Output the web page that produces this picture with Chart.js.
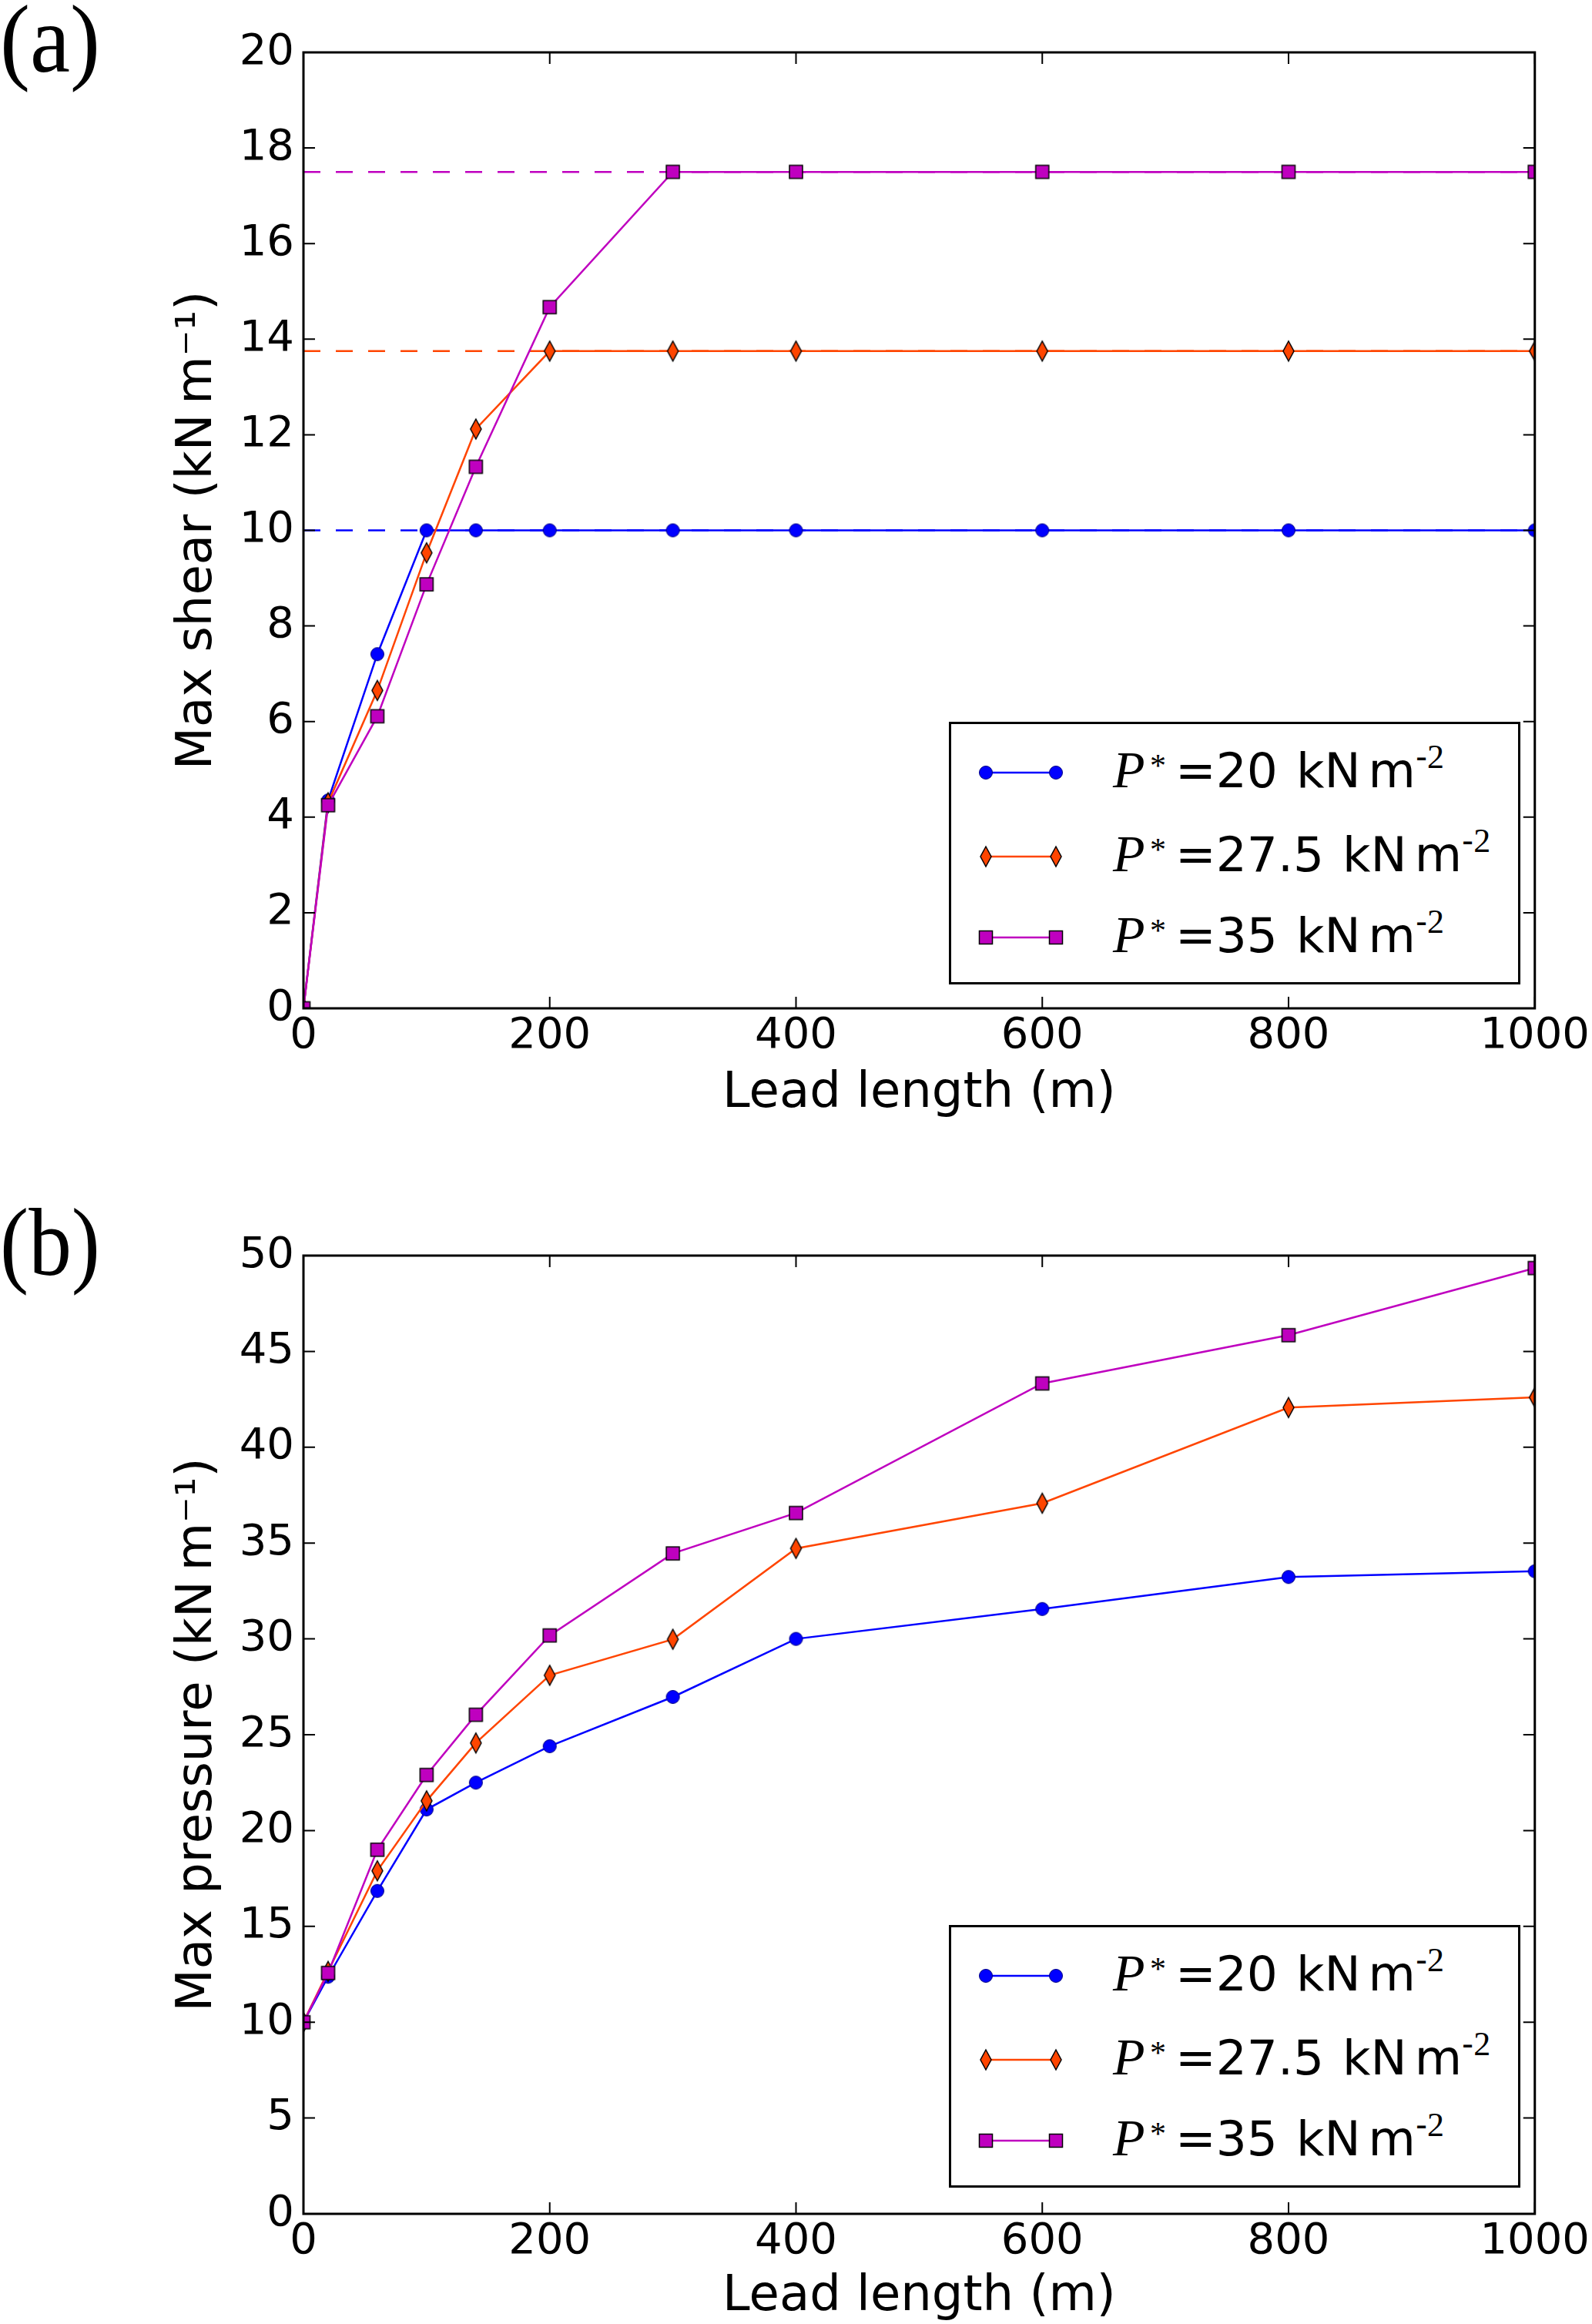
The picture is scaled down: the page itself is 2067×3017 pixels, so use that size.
<!DOCTYPE html>
<html><head><meta charset="utf-8">
<script src="https://cdn.jsdelivr.net/npm/chart.js@4.4.1/dist/chart.umd.min.js"></script>
<style>
html,body{margin:0;padding:0;background:#fff;}
#page{position:relative;width:2067px;height:3017px;overflow:hidden;background:#fff;}
canvas{position:absolute;left:0;}
#cA{top:0px;} #cB{top:1562px;}
#ov{position:absolute;left:0;top:0;pointer-events:none;}
</style></head><body>
<div id="page">
<canvas id="cA" width="2067" height="1562"></canvas>
<canvas id="cB" width="2067" height="1562"></canvas>
<svg id="ov" width="2067" height="3017" xmlns="http://www.w3.org/2000/svg"></svg>
</div>
<script>
// ---- data ----
const leadLength = [0, 20, 60, 100, 140, 200, 300, 400, 600, 800, 1000];
const pressureLabels = ['20', '27.5', '35'];
const shearP20   = [0, 4.35, 7.41, 10.0, 10.0, 10.0, 10.0, 10.0, 10.0, 10.0, 10.0];
const shearP275  = [0, 4.30, 6.65, 9.53, 12.12, 13.75, 13.75, 13.75, 13.75, 13.75, 13.75];
const shearP35   = [0, 4.25, 6.11, 8.87, 11.33, 14.67, 17.5, 17.5, 17.5, 17.5, 17.5];
const shearLimits = [10, 13.75, 17.5];
const pressP20   = [10, 12.37, 16.85, 21.1, 22.5, 24.4, 26.97, 30.0, 31.56, 33.23, 33.53];
const pressP275  = [10, 12.65, 17.9, 21.55, 24.57, 28.1, 29.98, 34.72, 37.08, 42.07, 42.6];
const pressP35   = [10, 12.57, 19.0, 22.9, 26.04, 30.18, 34.46, 36.57, 43.33, 45.85, 49.35];
const xTickValues = [0, 200, 400, 600, 800, 1000];
const shearTickValues = [0, 2, 4, 6, 8, 10, 12, 14, 16, 18, 20];
const pressTickValues = [0, 5, 10, 15, 20, 25, 30, 35, 40, 45, 50];
const xTitle = 'Lead length (m)';
const shearTitle = 'Max shear (kN\u2009m\u207B\u00B9)';
const pressTitle = 'Max pressure (kN\u2009m\u207B\u00B9)';

// ---- styles ----
const colors = ['#0000ff', '#ff4500', '#bf00bf'];
const edgeColors = ['#000080', '#000000', '#000000'];

function makeMarker(kind, fill, edge) {
  const c = document.createElement('canvas');
  let ctx;
  if (kind === 'circle') {
    c.width = 20; c.height = 20; ctx = c.getContext('2d');
    ctx.beginPath(); ctx.arc(10, 10, 8.5, 0, Math.PI * 2);
    ctx.fillStyle = fill; ctx.fill(); ctx.lineWidth = 1; ctx.strokeStyle = edge; ctx.stroke();
  } else if (kind === 'diamond') {
    c.width = 18; c.height = 30; ctx = c.getContext('2d');
    ctx.beginPath(); ctx.moveTo(9, 2); ctx.lineTo(16, 15); ctx.lineTo(9, 28); ctx.lineTo(2, 15); ctx.closePath();
    ctx.fillStyle = fill; ctx.fill(); ctx.lineWidth = 1.5; ctx.strokeStyle = edge; ctx.stroke();
  } else {
    c.width = 21; c.height = 21; ctx = c.getContext('2d');
    ctx.fillStyle = fill; ctx.fillRect(2, 2, 17, 17);
    ctx.lineWidth = 1.5; ctx.strokeStyle = edge; ctx.strokeRect(2, 2, 17, 17);
  }
  return c;
}
const markerKinds = ['circle', 'diamond', 'square'];
const markers = markerKinds.map((k, i) => makeMarker(k, colors[i], edgeColors[i]));

const framePlugin = {
  id: 'frame',
  afterDatasetsDraw(chart) {
    const { ctx, chartArea: { left, right, top, bottom }, scales: { x, y } } = chart;
    ctx.save();
    ctx.strokeStyle = '#000'; ctx.lineWidth = 2;
    const L = 15;
    ctx.beginPath();
    x.ticks.forEach(t => {
      const px = x.getPixelForValue(t.value);
      ctx.moveTo(px, bottom); ctx.lineTo(px, bottom - L);
      ctx.moveTo(px, top); ctx.lineTo(px, top + L);
    });
    y.ticks.forEach(t => {
      const py = y.getPixelForValue(t.value);
      ctx.moveTo(left, py); ctx.lineTo(left + L, py);
      ctx.moveTo(right, py); ctx.lineTo(right - L, py);
    });
    ctx.stroke();
    ctx.lineWidth = 3;
    ctx.strokeRect(left, top, right - left, bottom - top);
    ctx.restore();
  }
};

function makeChart(canvasId, seriesList, limits, yTicks, yTitle, xAxisH) {
  const datasets = [];
  (limits || []).forEach((v, i) => {
    datasets.push({
      data: [{ x: xTickValues[0], y: v }, { x: xTickValues[xTickValues.length - 1], y: v }],
      borderColor: colors[i], borderWidth: 2.5, borderDash: [22, 20],
      pointRadius: 0, pointHoverRadius: 0, order: 10 + i, tension: 0
    });
  });
  seriesList.forEach((s, i) => {
    datasets.push({
      label: 'P* = ' + pressureLabels[i] + ' kN m-2',
      data: leadLength.map((x, j) => ({ x: x, y: s[j] })),
      borderColor: colors[i], backgroundColor: colors[i], borderWidth: 2.5,
      pointStyle: markers[i], pointRadius: 9, pointHoverRadius: 9,
      tension: 0, order: 3 - i
    });
  });
  return new Chart(document.getElementById(canvasId), {
    type: 'line',
    data: { datasets },
    plugins: [framePlugin],
    options: {
      responsive: false, animation: false, devicePixelRatio: 1, events: [],
      layout: { padding: { top: 68, right: 69, left: 0, bottom: 0 } },
      plugins: { legend: { display: false }, tooltip: { enabled: false } },
      scales: {
        x: {
          type: 'linear', min: xTickValues[0], max: xTickValues[xTickValues.length - 1],
          afterBuildTicks: s => { s.ticks = xTickValues.map(v => ({ value: v })); },
          afterFit: s => { s.height = xAxisH; },
          grid: { display: false, drawTicks: false }, border: { display: false },
          ticks: { font: { family: "'DejaVu Sans'", size: 56 }, color: '#000', padding: 3,
                   maxRotation: 0, autoSkip: false, callback: v => String(v) },
          title: { display: true, text: xTitle, color: '#000',
                   font: { family: "'DejaVu Sans'", size: 64 }, padding: { top: 0, bottom: 103.6 } }
        },
        y: {
          type: 'linear', min: yTicks[0], max: yTicks[yTicks.length - 1],
          afterBuildTicks: s => { s.ticks = yTicks.map(v => ({ value: v })); },
          afterFit: s => { s.width = 394; },
          grid: { display: false, drawTicks: false }, border: { display: false },
          ticks: { font: { family: "'DejaVu Sans'", size: 56 }, color: '#000', padding: 12,
                   autoSkip: false, callback: v => String(v) },
          title: { display: true, text: yTitle, color: '#000',
                   font: { family: "'DejaVu Sans'", size: 64 }, padding: { top: 218.6, bottom: 0 } }
        }
      }
    }
  });
}

makeChart('cA', [shearP20, shearP275, shearP35], shearLimits, shearTickValues, shearTitle, 1562 - 1309);
makeChart('cB', [pressP20, pressP275, pressP35], null, pressTickValues, pressTitle, 1562 - 1312);

// ---- overlay: panel letters and legends (real SVG text) ----
const NS = 'http://www.w3.org/2000/svg';
const svg = document.getElementById('ov');
function el(tag, attrs, parent, text) {
  const e = document.createElementNS(NS, tag);
  for (const k in attrs) e.setAttribute(k, attrs[k]);
  if (text !== undefined) e.textContent = text;
  (parent || svg).appendChild(e);
  return e;
}
const panelLetters = ['(a)', '(b)'];
const panelOffsets = [0, 1562];
panelLetters.forEach((t, i) => {
  el('text', { x: 0, y: 93 + panelOffsets[i], 'font-family': 'Liberation Serif', 'font-size': 124,
               textLength: 130, lengthAdjust: 'spacingAndGlyphs', fill: '#000' }, svg, t);
});

function drawMarker(g, kind, cx, cy, fill, edge) {
  if (kind === 'circle') el('circle', { cx, cy, r: 8.5, fill, stroke: edge, 'stroke-width': 1 }, g);
  else if (kind === 'diamond') el('polygon', { points: `${cx},${cy - 13} ${cx + 7},${cy} ${cx},${cy + 13} ${cx - 7},${cy}`, fill, stroke: edge, 'stroke-width': 1.5 }, g);
  else el('rect', { x: cx - 8.5, y: cy - 8.5, width: 17, height: 17, fill, stroke: edge, 'stroke-width': 1.5 }, g);
}
function drawLegend(ox, oy) {
  const g = el('g', { transform: `translate(${ox},${oy})` });
  el('rect', { x: 1.5, y: 1.5, width: 739, height: 338, fill: '#fff', stroke: '#000', 'stroke-width': 3 }, g);
  const rowY = [66, 175, 280];
  pressureLabels.forEach((lab, i) => {
    const cy = rowY[i];
    el('line', { x1: 48, y1: cy, x2: 139, y2: cy, stroke: colors[i], 'stroke-width': 2.5 }, g);
    drawMarker(g, markerKinds[i], 48, cy, colors[i], edgeColors[i]);
    drawMarker(g, markerKinds[i], 139, cy, colors[i], edgeColors[i]);
    const t = el('text', { x: 213, y: cy + 19, 'font-family': 'DejaVu Sans', 'font-size': 63, fill: '#000' }, g);
    el('tspan', { 'font-family': 'Liberation Serif', 'font-style': 'italic', 'font-size': 68 }, t, 'P');
    el('tspan', { x: 261, dy: -14, 'font-family': 'Liberation Serif', 'font-size': 42 }, t, '*');
    el('tspan', { x: 294, dy: 14 }, t, '=' + lab);
    el('tspan', { dx: 24 }, t, 'kN');
    el('tspan', { dx: 10 }, t, 'm');
    el('tspan', { dy: -25, 'font-size': 42 }, t, '-');
    el('tspan', { 'font-family': 'Liberation Serif', 'font-size': 44 }, t, '2');
  });
}
drawLegend(1232, 937);
drawLegend(1232, 937 + 1562);
</script>
</body></html>
